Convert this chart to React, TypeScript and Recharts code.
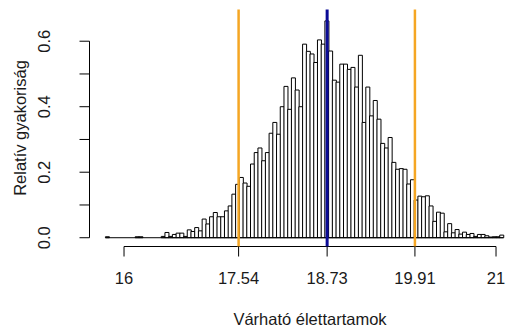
import { Bar, ComposedChart, ReferenceLine, XAxis, YAxis } from 'recharts';

// histogram breaks: 15.75 .. 21.10 by 0.05
const breakStart = 15.75;
const binWidth = 0.05;

// relative frequency (density) per bin
const density = [
  0.003, 0, 0, 0, 0, 0, 0, 0, 0.003, 0.003,
  0, 0, 0, 0, 0, 0.004, 0.016, 0.004, 0.01, 0.014,
  0.014, 0.004, 0.024, 0.019, 0.031, 0.021, 0.057, 0.042, 0.064, 0.077,
  0.064, 0.064, 0.082, 0.097, 0.133, 0.163, 0.184, 0.167, 0.157, 0.225,
  0.26, 0.274, 0.235, 0.26, 0.319, 0.352, 0.316, 0.4, 0.462, 0.392,
  0.488, 0.451, 0.4, 0.591, 0.569, 0.561, 0.535, 0.604, 0.591, 0.662,
  0.57, 0.481, 0.475, 0.53, 0.53, 0.514, 0.52, 0.46, 0.557, 0.352,
  0.46, 0.372, 0.419, 0.362, 0.288, 0.274, 0.306, 0.23, 0.209, 0.211,
  0.209, 0.164, 0.177, 0.115, 0.127, 0.125, 0.128, 0.097, 0.05, 0.078,
  0.075, 0.018, 0.043, 0.015, 0.025, 0.011, 0.017, 0.01, 0.013, 0.004,
  0.01, 0.01, 0.006, 0.002, 0.003, 0.003, 0.008,
];

const xTicks = [16, 17.54, 18.73, 19.91, 21];
const yTicks = [0, 0.1, 0.2, 0.3, 0.4, 0.5, 0.6];
const lowerBound = 17.54;
const upperBound = 19.91;
const meanValue = 18.73;

const bins = density.map((d, i) => ({ mid: breakStart + (i + 0.5) * binWidth, density: d }));
const breakEnd = breakStart + density.length * binWidth;

// R style axis limits (4% extension); right side is cut by the picture edge
const xLo = breakStart - 0.04 * (breakEnd - breakStart);
const xHi = 21.161;
const yLo = -0.0268;
const yHi = 0.6968;

const FONT = '"Liberation Sans", Arial, sans-serif';
const INK = '#1a1a1a';

const XTick = ({ x, payload }: any) => (
  <text x={x} y={284} textAnchor="middle" fontFamily={FONT} fontSize={16.5} fill={INK}>
    {String(payload.value)}
  </text>
);

const YTick = ({ y, payload }: any) => {
  if (Math.round(payload.value * 10) % 2 !== 0) return <g />;
  return (
    <text
      x={50}
      y={y}
      transform={`rotate(-90 50 ${y})`}
      textAnchor="middle"
      fontFamily={FONT}
      fontSize={16.5}
      fill={INK}
    >
      {payload.value.toFixed(1)}
    </text>
  );
};

export default function App() {
  return (
    <div style={{ position: 'absolute', left: 0, top: 0, width: 508, height: 329, background: '#fff' }}>
      <ComposedChart
        width={508}
        height={329}
        data={bins}
        margin={{ top: 9.5, right: 0, bottom: 52.5, left: 59.5 }}
        barCategoryGap={0}
        barGap={0}
      >
        <XAxis
          type="number"
          dataKey="mid"
          domain={[xLo, xHi]}
          allowDataOverflow
          ticks={xTicks}
          interval={0}
          height={30}
          axisLine={false}
          tickSize={10}
          tickLine={{ stroke: '#000' }}
          tick={XTick}
        />
        <YAxis
          type="number"
          domain={[yLo, yHi]}
          allowDataOverflow
          ticks={yTicks}
          interval={0}
          width={30}
          axisLine={false}
          tickSize={10}
          tickLine={{ stroke: '#000' }}
          tick={YTick}
        />
        <ReferenceLine
          segment={[{ x: breakStart, y: 0 }, { x: breakEnd, y: 0 }]}
          stroke="#000"
          ifOverflow="visible"
        />
        <Bar dataKey="density" fill="#fff" stroke="#000" strokeWidth={1} isAnimationActive={false} />
        <ReferenceLine
          segment={[{ x: xTicks[0], y: yLo }, { x: xTicks[xTicks.length - 1], y: yLo }]}
          stroke="#000"
          ifOverflow="visible"
        />
        <ReferenceLine
          segment={[{ x: xLo, y: 0 }, { x: xLo, y: 0.6 }]}
          stroke="#000"
          ifOverflow="visible"
        />
        <ReferenceLine x={lowerBound} stroke="#F5A623" strokeWidth={2.5} ifOverflow="visible" />
        <ReferenceLine x={upperBound} stroke="#F5A623" strokeWidth={2.5} ifOverflow="visible" />
        <ReferenceLine x={meanValue} stroke="#0B0B96" strokeWidth={3} ifOverflow="visible" />
      </ComposedChart>
      <svg
        width={508}
        height={329}
        style={{ position: 'absolute', left: 0, top: 0, pointerEvents: 'none' }}
      >
        <text x={26} y={128} transform="rotate(-90 26 128)" textAnchor="middle" fontFamily={FONT} fontSize={16.5} fill={INK}>
          Relatív gyakoriság
        </text>
        <text x={310} y={325} textAnchor="middle" fontFamily={FONT} fontSize={16.5} fill={INK}>
          Várható élettartamok
        </text>
      </svg>
    </div>
  );
}
